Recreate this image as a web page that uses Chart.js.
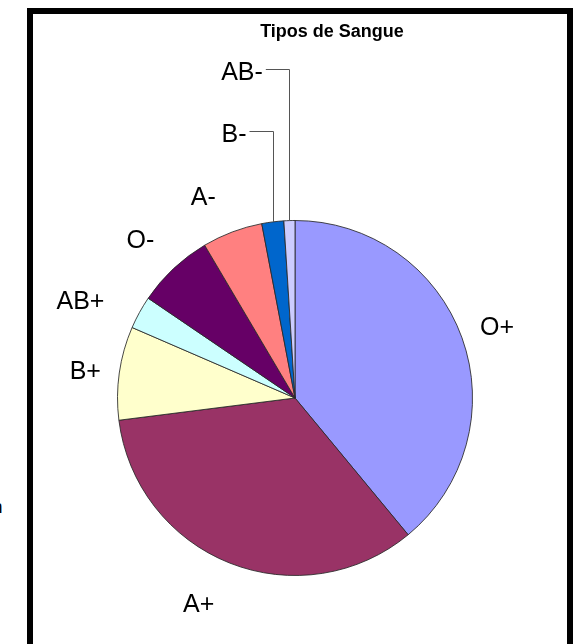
<!DOCTYPE html>
<html>
<head>
<meta charset="utf-8">
<script src="https://cdn.jsdelivr.net/npm/chart.js@4/dist/chart.umd.min.js"></script>
<style>
  html, body { margin: 0; padding: 0; background: #ffffff; overflow: hidden; }
  body { width: 573px; height: 644px; position: relative; }
  #frame { position: absolute; left: 27px; top: 8px; width: 534px; height: 700px; border: 6px solid #000; box-sizing: content-box; background: #fff; }
  #frag { position: absolute; left: -8px; top: 497px; font: 19px/19px "Liberation Sans", Arial, sans-serif; color: #000; }
  #c { position: absolute; left: 0; top: 0; }
</style>
</head>
<body>
<div id="frame"></div>
<div id="frag">n</div>
<canvas id="c" width="573" height="644"></canvas>
<script>
const chartTitle = "Tipos de Sangue";
const categories = ["O+", "A+", "B+", "AB+", "O-", "A-", "B-", "AB-"];
const values = [39, 34, 8.5, 3, 7, 5.5, 2, 1];
const sliceColors = ["#9999FF", "#993366", "#FFFFCC", "#CCFFFF", "#660066", "#FF8080", "#0066CC", "#CCCCFF"];

// label placement relative to the slice's outer mid point (style, not data)
const labelOffsets = {
  "O+": [35, -10], "A+": [-31, 42], "B+": [-34, -1], "AB+": [-59, -10],
  "O-": [-33, -27], "A-": [-29, -34]
};
const leaderLabels = { "B-": [234, 135], "AB-": [242, 73] };

const labelPlugin = {
  id: "sliceLabels",
  afterDatasetsDraw(chart) {
    const ctx = chart.ctx;
    const meta = chart.getDatasetMeta(0);
    ctx.save();
    ctx.fillStyle = "#000";
    ctx.font = "bold 18px 'Liberation Sans', Arial, sans-serif";
    ctx.textAlign = "center";
    ctx.textBaseline = "middle";
    ctx.fillText(chartTitle, 332, 32);

    ctx.font = "25px 'Liberation Sans', Arial, sans-serif";
    meta.data.forEach((arc, i) => {
      const name = categories[i];
      const p = arc.getProps(["x", "y", "startAngle", "endAngle", "outerRadius"], true);
      const mid = (p.startAngle + p.endAngle) / 2;
      const ex = p.x + Math.cos(mid) * p.outerRadius;
      const ey = p.y + Math.sin(mid) * p.outerRadius;
      if (labelOffsets[name]) {
        const o = labelOffsets[name];
        ctx.textAlign = "center";
        ctx.fillText(name, ex + o[0], ey + o[1]);
      } else if (leaderLabels[name]) {
        const pos = leaderLabels[name];
        ctx.textAlign = "center";
        ctx.fillText(name, pos[0], pos[1]);
        const w = ctx.measureText(name).width;
        const lx = Math.round(ex) + 0.5;
        const ly = Math.round(pos[1] - 4) + 0.5;
        ctx.strokeStyle = "#555";
        ctx.lineWidth = 1;
        ctx.beginPath();
        ctx.moveTo(pos[0] + w / 2 + 3, ly);
        ctx.lineTo(lx, ly);
        ctx.lineTo(lx, ey);
        ctx.stroke();
      }
    });
    ctx.restore();
  }
};

new Chart(document.getElementById("c"), {
  type: "pie",
  data: {
    labels: categories,
    datasets: [{
      data: values,
      backgroundColor: sliceColors,
      borderColor: "rgba(40,40,40,0.85)",
      borderWidth: 1
    }]
  },
  options: {
    responsive: false,
    animation: false,
    layout: { padding: { left: 117, right: 100, top: 220, bottom: 68 } },
    plugins: { legend: { display: false }, tooltip: { enabled: false }, title: { display: false } }
  },
  plugins: [labelPlugin]
});
</script>
</body>
</html>
